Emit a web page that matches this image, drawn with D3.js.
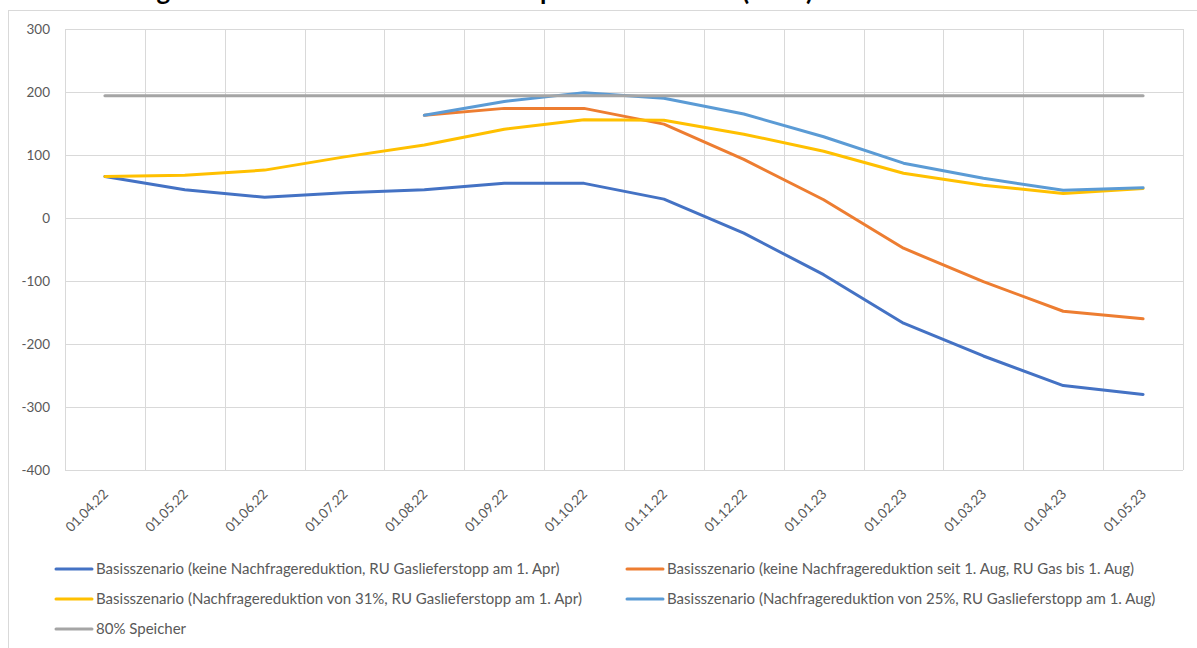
<!DOCTYPE html>
<html lang="de">
<head>
    <meta charset="UTF-8">
    <title>Gasbilanz Szenarien</title>
    <script src="https://d3js.org/d3.v7.min.js"></script>
    <style>
        body {margin: 0; background: #fff;}
        text {font-family: Lato, "Open Sans", sans-serif;}
    </style>
</head>
<body>
<svg id="chart" width="1197" height="648"></svg>
<script>
    const dates = ['01.04.22','01.05.22','01.06.22','01.07.22','01.08.22','01.09.22','01.10.22',
        '01.11.22','01.12.22','01.01.23','01.02.23','01.03.23','01.04.23','01.05.23'];
    const yTicks = [300, 200, 100, 0, -100, -200, -300, -400];

    const keineReduktionApr = [66, 45, 33, 40, 45, 55, 55, 30, -24, -90, -167, -219, -266, -280];
    const keineReduktionAug = [null, null, null, null, 163, 174, 174, 149, 93, 29, -48, -101, -148, -160];
    const reduktion31Apr = [66, 68, 76, 97, 116, 141, 156, 155, 133, 106, 71, 52, 39, 47];
    const reduktion25Aug = [null, null, null, null, 163, 185, 199, 190, 165, 129, 87, 63, 44, 48];
    const speicher80 = [194, 194, 194, 194, 194, 194, 194, 194, 194, 194, 194, 194, 194, 194];

    const series = [
        {name: 'Basisszenario (keine Nachfragereduktion, RU Gaslieferstopp am 1. Apr)', values: keineReduktionApr, color: '#4472C4'},
        {name: 'Basisszenario (keine Nachfragereduktion seit 1. Aug, RU Gas bis 1. Aug)', values: keineReduktionAug, color: '#ED7D31'},
        {name: 'Basisszenario (Nachfragereduktion von 31%, RU Gaslieferstopp am 1. Apr)', values: reduktion31Apr, color: '#FFC000'},
        {name: 'Basisszenario (Nachfragereduktion von 25%, RU Gaslieferstopp am 1. Aug)', values: reduktion25Aug, color: '#5B9BD5'},
        {name: '80% Speicher', values: speicher80, color: '#A5A5A5'}
    ];

    const svg = d3.select('#chart');
    const m = {l: 65, r: 14, t: 29, b: 178};
    const W = 1197, H = 648;

    svg.append('rect').attr('x', 8.5).attr('y', 10.5).attr('width', W + 10).attr('height', H + 10)
        .attr('fill', '#fff').attr('stroke', '#d9d9d9');

    // title, mostly cut off at the top (as in the source screenshot)
    svg.append('text').attr('x', 28).attr('y', 0)
        .attr('font-size', 26).attr('font-weight', 'bold').attr('fill', '#000')
        .text('Entwicklung der deutschen Gasbilanz nach Speicherszenarien (TWh)');

    const x = d3.scaleBand().domain(dates).range([m.l, W - m.r]);
    const y = d3.scaleLinear().domain([-400, 300]).range([H - m.b, m.t]);

    // grid
    const grid = svg.append('g').attr('stroke', '#d9d9d9').attr('stroke-width', 1);
    grid.selectAll('line.h').data(yTicks).join('line').attr('class', 'h')
        .attr('x1', m.l).attr('x2', W - m.r)
        .attr('y1', d => Math.round(y(d)) + 0.5).attr('y2', d => Math.round(y(d)) + 0.5);
    const bounds = dates.map(d => x(d)).concat([W - m.r]);
    grid.selectAll('line.v').data(bounds).join('line').attr('class', 'v')
        .attr('x1', d => Math.round(d) + 0.5).attr('x2', d => Math.round(d) + 0.5)
        .attr('y1', m.t).attr('y2', y(-400));

    // y labels
    svg.append('g').selectAll('text').data(yTicks).join('text')
        .attr('x', 50).attr('y', d => y(d)).attr('dy', '0.36em')
        .attr('text-anchor', 'end').attr('font-size', 13.5).attr('fill', '#595959')
        .text(d => d);

    // x labels
    svg.append('g').selectAll('text').data(dates).join('text')
        .attr('transform', d => `translate(${x(d) + x.bandwidth() / 2 + 4},495) rotate(-45)`)
        .attr('text-anchor', 'end').attr('font-size', 13.5).attr('fill', '#595959')
        .text(d => d);

    // lines
    const line = d3.line()
        .defined(d => d.v != null)
        .x(d => x(d.date) + x.bandwidth() / 2)
        .y(d => y(d.v));
    svg.append('g').selectAll('path').data(series).join('path')
        .attr('d', s => line(s.values.map((v, i) => ({date: dates[i], v}))))
        .attr('fill', 'none').attr('stroke', s => s.color).attr('stroke-width', 3)
        .attr('stroke-linejoin', 'round').attr('stroke-linecap', 'round');

    // legend
    const legendPos = [[56, 569], [627, 569], [56, 599], [627, 599], [56, 629]];
    const lg = svg.append('g').selectAll('g').data(series).join('g')
        .attr('transform', (s, i) => `translate(${legendPos[i][0]},${legendPos[i][1]})`);
    lg.append('line').attr('x1', 0).attr('x2', 36).attr('y1', 0).attr('y2', 0)
        .attr('stroke', s => s.color).attr('stroke-width', 3).attr('stroke-linecap', 'round');
    lg.append('text').attr('x', 40).attr('dy', '0.36em').attr('font-size', 15).attr('fill', '#595959')
        .text(s => s.name);
</script>
</body>
</html>
